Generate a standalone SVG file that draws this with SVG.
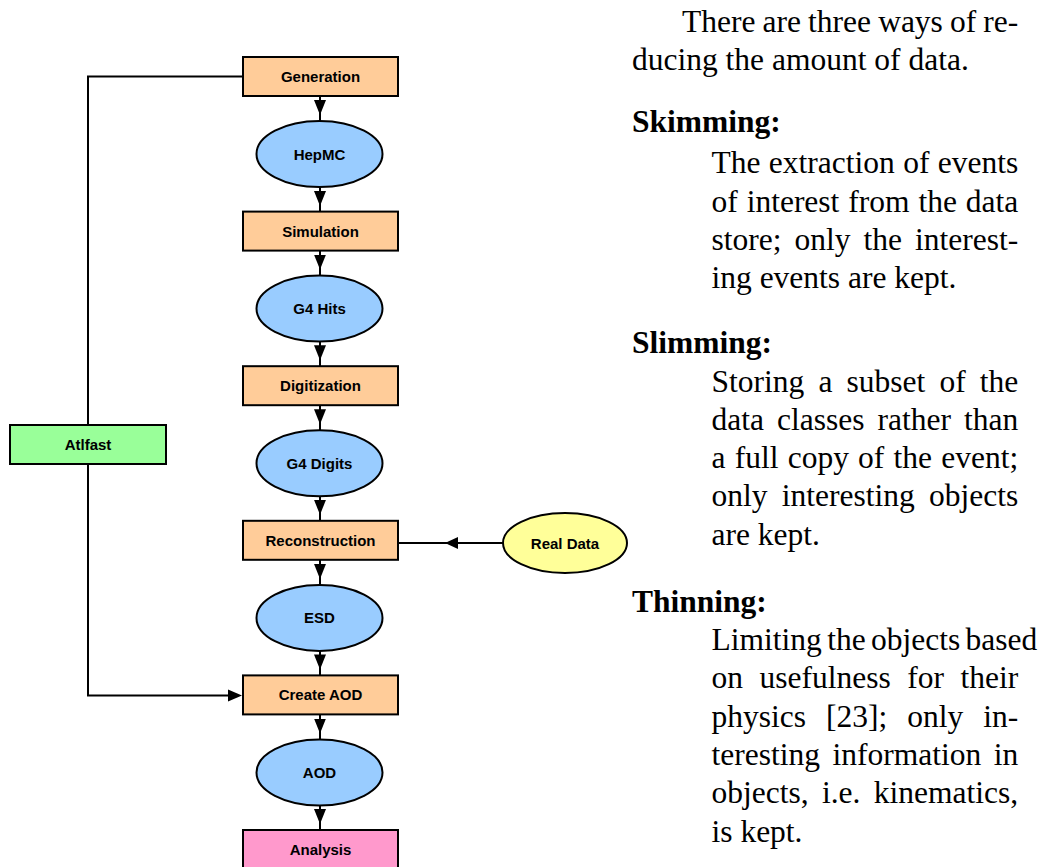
<svg xmlns="http://www.w3.org/2000/svg" width="1046" height="867" viewBox="0 0 1046 867">
<style>
.box{stroke:#000;stroke-width:2}
.proc{fill:#FFCC99}
.data{fill:#99CCFF}
.fast{fill:#99FF99}
.real{fill:#FFFF99}
.ana{fill:#FF99CC}
.lbl{font-family:"Liberation Sans",Arial,sans-serif;font-weight:bold;font-size:15px;text-anchor:middle;fill:#000}
.ln{stroke:#000;stroke-width:2;fill:none}
.ah{fill:#000}
.body{font-family:"Liberation Serif","Times New Roman",serif;font-size:31.5px;fill:#000}
.hd{font-family:"Liberation Serif","Times New Roman",serif;font-size:31.5px;font-weight:bold;fill:#000}
</style>
<defs>
<marker id="arr" markerUnits="userSpaceOnUse" markerWidth="22" markerHeight="12" refX="21" refY="6" orient="auto">
<path d="M0,0 L15,6 L0,12 z" fill="#000"/>
</marker>
</defs>
<rect width="1046" height="867" fill="#fff"/>
<g id="connectors">
<line class="ln" x1="320" y1="96" x2="320" y2="121" marker-end="url(#arr)"/>
<line class="ln" x1="320" y1="187" x2="320" y2="212" marker-end="url(#arr)"/>
<line class="ln" x1="320" y1="250.6" x2="320" y2="275.6" marker-end="url(#arr)"/>
<line class="ln" x1="320" y1="341.6" x2="320" y2="366.2" marker-end="url(#arr)"/>
<line class="ln" x1="320" y1="405.2" x2="320" y2="430.2" marker-end="url(#arr)"/>
<line class="ln" x1="320" y1="496.2" x2="320" y2="520.8" marker-end="url(#arr)"/>
<line class="ln" x1="320" y1="559.8" x2="320" y2="584.9" marker-end="url(#arr)"/>
<line class="ln" x1="320" y1="650.9" x2="320" y2="675.4" marker-end="url(#arr)"/>
<line class="ln" x1="320" y1="714.4" x2="320" y2="739.5" marker-end="url(#arr)"/>
<line class="ln" x1="320" y1="805.5" x2="320" y2="830" marker-end="url(#arr)"/>
<polyline class="ln" points="88,425 88,76.5 243,76.5"/>
<polyline class="ln" points="88,464 88,695.5 230,695.5"/>
<polygon class="ah" points="228,689.5 242,695.5 228,701.5"/>
<line class="ln" x1="503" y1="543" x2="398" y2="543"/>
<polygon class="ah" points="458,537 445,543 458,549"/>
</g>
<g id="generation"><rect class="box proc" x="243" y="57" width="155" height="39"/><text class="lbl" x="320.5" y="82">Generation</text></g>
<g id="hepmc"><ellipse class="box data" cx="319.5" cy="154" rx="63" ry="33"/><text class="lbl" x="319.5" y="159.5">HepMC</text></g>
<g id="simulation"><rect class="box proc" x="243" y="211.6" width="155" height="39"/><text class="lbl" x="320.5" y="236.6">Simulation</text></g>
<g id="g4hits"><ellipse class="box data" cx="319.5" cy="308.6" rx="63" ry="33"/><text class="lbl" x="319.5" y="314">G4 Hits</text></g>
<g id="digitization"><rect class="box proc" x="243" y="366.2" width="155" height="39"/><text class="lbl" x="320.5" y="391.2">Digitization</text></g>
<g id="g4digits"><ellipse class="box data" cx="319.5" cy="463.2" rx="63" ry="33"/><text class="lbl" x="319.5" y="468.6">G4 Digits</text></g>
<g id="reconstruction"><rect class="box proc" x="243" y="520.8" width="155" height="39"/><text class="lbl" x="320.5" y="545.8">Reconstruction</text></g>
<g id="esd"><ellipse class="box data" cx="319.5" cy="617.9" rx="63" ry="33"/><text class="lbl" x="319.5" y="623.3">ESD</text></g>
<g id="createaod"><rect class="box proc" x="243" y="675.4" width="155" height="39"/><text class="lbl" x="320.5" y="700.4">Create AOD</text></g>
<g id="aod"><ellipse class="box data" cx="319.5" cy="772.5" rx="63" ry="33"/><text class="lbl" x="319.5" y="777.9">AOD</text></g>
<g id="analysis"><rect class="box ana" x="243" y="830" width="155" height="39"/><text class="lbl" x="320.5" y="855">Analysis</text></g>
<g id="atlfast"><rect class="box fast" x="10" y="425" width="156" height="39"/><text class="lbl" x="88" y="450">Atlfast</text></g>
<g id="realdata"><ellipse class="box real" cx="565" cy="543" rx="62" ry="30"/><text class="lbl" x="565" y="548.5">Real Data</text></g>
<g id="text">
<text class="body" x="682" y="32" word-spacing="-0.78">There are three ways of re-</text>
<text class="body" x="632" y="70">ducing the amount of data.</text>
<text class="hd" x="632" y="132">Skimming:</text>
<text class="body" x="711.5" y="173.3" word-spacing="0.5">The extraction of events</text>
<text class="body" x="711.5" y="211.6" word-spacing="1.03">of interest from the data</text>
<text class="body" x="711.5" y="249.9" word-spacing="5.17">store; only the interest-</text>
<text class="body" x="711.5" y="288.2">ing events are kept.</text>
<text class="hd" x="632" y="353">Slimming:</text>
<text class="body" x="711.5" y="391.5" word-spacing="6.27">Storing a subset of the</text>
<text class="body" x="711.5" y="429.8" word-spacing="5.17">data classes rather than</text>
<text class="body" x="711.5" y="468.1" word-spacing="1.34">a full copy of the event;</text>
<text class="body" x="711.5" y="506.4" word-spacing="6.4">only interesting objects</text>
<text class="body" x="711.5" y="544.7">are kept.</text>
<text class="hd" x="632" y="612">Thinning:</text>
<text class="body" x="711.5" y="650" word-spacing="-2.5">Limiting the objects based</text>
<text class="body" x="711.5" y="688.3" word-spacing="8.67">on usefulness for their</text>
<text class="body" x="711.5" y="726.6" word-spacing="12.1">physics [23]; only in-</text>
<text class="body" x="711.5" y="764.9" word-spacing="4.65">teresting information in</text>
<text class="body" x="711.5" y="803.2" word-spacing="5.5">objects, i.e. kinematics,</text>
<text class="body" x="711.5" y="841.5">is kept.</text>
</g>
</svg>
